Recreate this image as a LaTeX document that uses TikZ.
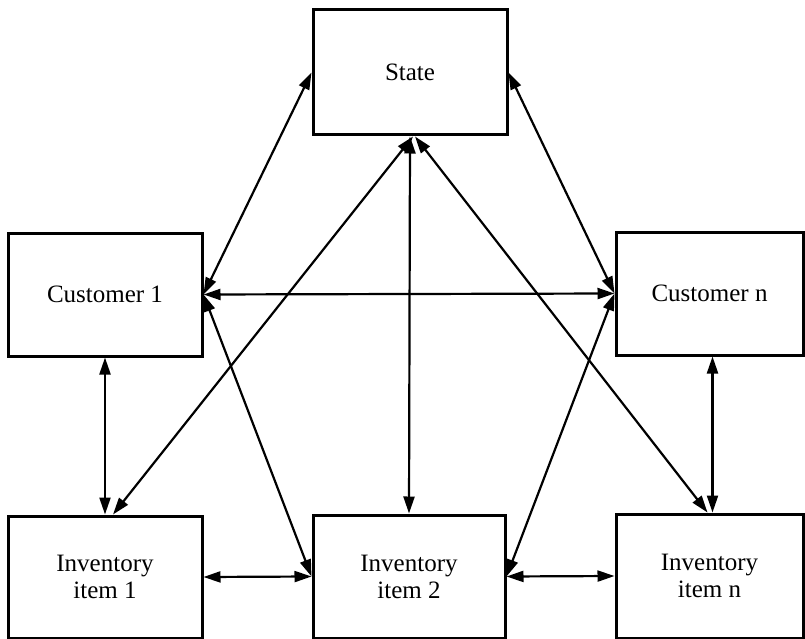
\documentclass[tikz,border=0pt]{standalone}
\usepackage{fontspec}
\setmainfont{Liberation Serif}
\usetikzlibrary{arrows.meta}
\tikzset{
  box/.style={draw=black, line width=3pt, rectangle, inner sep=0pt, align=center,
    font=\fontsize{25}{27}\selectfont},
  link/.style={line width=2.2pt, {Triangle[length=17pt,width=11pt]}-{Triangle[length=17pt,width=11pt]}}
}
\begin{document}
\begin{tikzpicture}[x=1pt,y=-1pt]
\useasboundingbox (0,0) rectangle (805,639);
\node[box, minimum width=194pt, minimum height=125pt] (state) at (410,72.5) {State};
\node[box, minimum width=194pt, minimum height=123pt] (c1) at (105,294.5) {Customer 1};
\node[box, minimum width=187pt, minimum height=123pt] (cn) at (709.5,293.5) {Customer n};
\node[box, minimum width=194pt, minimum height=122pt] (i1) at (105,577) {Inventory\\item 1};
\node[box, minimum width=192pt, minimum height=123pt] (i2) at (409,576.5) {Inventory\\item 2};
\node[box, minimum width=187pt, minimum height=124pt] (in) at (709.5,576) {Inventory\\item n};

\draw[link] (state.west) -- (c1.east);
\draw[link] (state.east) -- (cn.west);
\draw[link] (c1.east) -- (cn.west);
\draw[link] ([xshift=3pt]state.south) -- ([xshift=8pt]i1.north);
\draw[link] (state.south) -- (i2.north);
\draw[link] ([xshift=5pt]state.south) -- ([xshift=-2pt]in.north);
\draw[link] (c1.south) -- (i1.north);
\draw[link] (c1.east) -- (i2.west);
\draw[link] (cn.west) -- (i2.east);
\draw[link] ([xshift=3pt]cn.south) -- ([xshift=3pt]in.north);
\draw[link] (i1.east) -- (i2.west);
\draw[link] (i2.east) -- (in.west);
\end{tikzpicture}
\end{document}
